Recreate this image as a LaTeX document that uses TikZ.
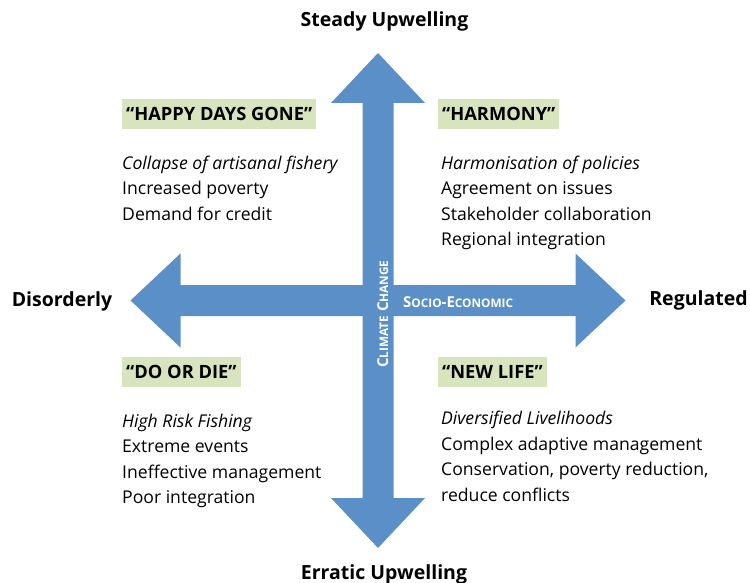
\documentclass[tikz,border=0pt]{standalone}
\usepackage{fontspec}
\setmainfont{Open Sans}
\definecolor{arrowblue}{RGB}{91,143,199}
\definecolor{labelgreen}{RGB}{215,228,189}
\newcommand{\fakesc}[1]{{\fontsize{11.8}{12}\selectfont #1}}

\begin{document}
\begin{tikzpicture}[x=1pt,y=-1pt,
  axis/.style={font=\fontsize{19.5}{22}\selectfont\bfseries, anchor=base, inner sep=0pt},
  scenario/.style={fill=labelgreen, font=\fontsize{18.3}{20}\selectfont\bfseries, inner xsep=4pt, minimum height=30pt, anchor=north west},
  items/.style={font=\fontsize{17.6}{25.5}\selectfont, align=left, anchor=base west, inner sep=0pt},
  driver/.style={text=white, font=\fontsize{15}{15}\selectfont\bfseries, anchor=base west, inner sep=0pt}]
\useasboundingbox (0,0) rectangle (750,583);
\coordinate (O) at (378,300.5);
% the two double arrows
\foreach \a in {0,90}
  \fill[arrowblue, shift={(O)}, rotate=\a] (-247.5,0) -- (-197.5,-47) -- (-197.5,-15.5) -- (197.5,-15.5) -- (197.5,-47) -- (247.5,0)
    -- (197.5,47) -- (197.5,15.5) -- (-197.5,15.5) -- (-197.5,47) -- cycle;
% ends of the axes
\node[axis] (steady) at (384.5,27) {Steady Upwelling};
\node[axis] (erratic) at (384,579) {Erratic Upwelling};
\node[axis] (disorderly) at (62,306) {Disorderly};
\node[axis] (regulated) at (698.5,305.5) {Regulated};
% drivers
\node[driver] (socio) at (403,307) {S\fakesc{OCIO}-E\fakesc{CONOMIC}};
\node[driver, rotate=90] (climate) at (388,368) {C\fakesc{LIMATE} C\fakesc{HANGE}};
% scenarios
\node[scenario] (gone) at (122,99) {``HAPPY DAYS GONE''};
\node[scenario] (harmony) at (438,99) {``HARMONY''};
\node[scenario] (die) at (122,357) {``DO OR DIE''};
\node[scenario] (newlife) at (438,357) {``NEW LIFE''};
% the last line sits on the given baseline
\node[items] (goneitems) at (122,220) {\textit{Collapse of artisanal fishery}\\Increased poverty\\Demand for credit};
\node[items] (harmonyitems) at (441,245.5) {\textit{Harmonisation of policies}\\Agreement on issues\\Stakeholder collaboration\\Regional integration};
\node[items] (dieitems) at (122,503.5) {\textit{High Risk Fishing}\\Extreme events\\Ineffective management\\Poor integration};
\node[items] (newlifeitems) at (441,501) {\textit{Diversified Livelihoods}\\Complex adaptive management\\Conservation, poverty reduction,\\reduce conflicts};
\end{tikzpicture}
\end{document}
